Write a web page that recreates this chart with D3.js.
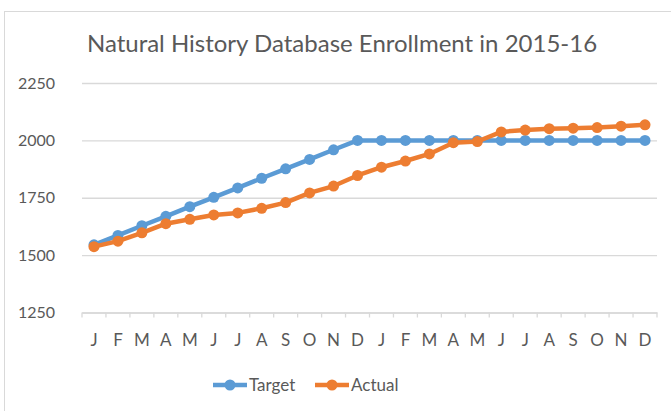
<!DOCTYPE html>
<html>
<head>
<meta charset="utf-8">
<script src="https://cdn.jsdelivr.net/npm/d3@7"></script>
<style>
  html, body { margin: 0; padding: 0; background: #fff; }
  svg { display: block; }
</style>
</head>
<body>
<div id="chart"></div>
<script>
// month labels, two years
const months = ['J', 'F', 'M', 'A', 'M', 'J', 'J', 'A', 'S', 'O', 'N', 'D',
  'J', 'F', 'M', 'A', 'M', 'J', 'J', 'A', 'S', 'O', 'N', 'D'];

const target = [1545, 1586, 1628, 1669, 1711, 1752, 1793, 1835, 1876, 1917, 1959, 2000,
  2000, 2000, 2000, 2000, 2000, 2000, 2000, 2000, 2000, 2000, 2000, 2000];

const actual = [1537, 1561, 1597, 1637, 1656, 1675, 1684, 1704, 1729, 1771, 1801, 1847,
  1883, 1910, 1941, 1990, 1995, 2037, 2045, 2051, 2053, 2056, 2062, 2068];

const yTicks = [1250, 1500, 1750, 2000, 2250];

const width = 671;
const height = 411;
const font = 'Lato, "Open Sans", sans-serif';
const textColor = '#595959';
const gridColor = '#d9d9d9';

const series = [
  { label: 'Target', color: '#5b9bd5', values: target },
  { label: 'Actual', color: '#ed7d31', values: actual },
];

const svg = d3.select('#chart').append('svg')
  .attr('width', width)
  .attr('height', height);

// chart area border (cut off at the right and bottom in the original)
svg.append('rect')
  .attr('x', 4.5)
  .attr('y', 11.5)
  .attr('width', 690)
  .attr('height', 420)
  .attr('fill', '#fff')
  .attr('stroke', gridColor)
  .attr('stroke-width', 1);

const margin = { top: 83, right: 14, bottom: 98.5, left: 82 };
const chartWidth = width - margin.left - margin.right;
const chartHeight = height - margin.top - margin.bottom;

const g = svg.append('g').attr('transform', `translate(${margin.left},${margin.top})`);

const xScale = d3.scaleBand().domain(d3.range(months.length)).range([0, chartWidth]);
const yScale = d3.scaleLinear().domain([1250, 2250]).range([chartHeight, 0]);

// title
svg.append('text')
  .attr('x', 342)
  .attr('y', 52)
  .attr('text-anchor', 'middle')
  .attr('font-family', font)
  .attr('font-size', '24px')
  .attr('fill', textColor)
  .text('Natural History Database Enrollment in 2015-16');

// gridlines + y labels
const yAxis = g.append('g')
  .attr('class', 'y-axis')
  .call(d3.axisLeft(yScale).tickValues(yTicks).tickSize(-chartWidth).tickPadding(27).tickFormat(d3.format('d')));
yAxis.select('.domain').remove();
yAxis.selectAll('.tick line').attr('stroke', gridColor).attr('stroke-width', 1.3);
yAxis.selectAll('.tick text')
  .attr('font-family', font)
  .attr('font-size', '16px')
  .attr('fill', textColor);

// x axis along bottom
const xAxis = g.append('g')
  .attr('class', 'x-axis')
  .attr('transform', `translate(0,${chartHeight})`)
  .call(d3.axisBottom(xScale).tickFormat(i => months[i]).tickSize(0).tickPadding(21));
xAxis.select('.domain').attr('stroke', gridColor).attr('stroke-width', 1.3);
xAxis.selectAll('.tick text')
  .attr('font-family', font)
  .attr('font-size', '17px')
  .attr('fill', textColor);

// little tick marks between categories
g.append('g')
  .selectAll('line')
  .data(d3.range(months.length + 1))
  .join('line')
  .attr('x1', i => i * xScale.step())
  .attr('x2', i => i * xScale.step())
  .attr('y1', chartHeight)
  .attr('y2', chartHeight + 5)
  .attr('stroke', gridColor)
  .attr('stroke-width', 1.3);

const drawLine = d3.line()
  .x((d, i) => xScale(i) + xScale.bandwidth() / 2)
  .y(d => yScale(d));

series.forEach(({ color, values }) => {
  g.append('path')
    .datum(values)
    .attr('fill', 'none')
    .attr('stroke', color)
    .attr('stroke-width', 4.5)
    .attr('stroke-linejoin', 'round')
    .attr('stroke-linecap', 'round')
    .attr('d', drawLine);

  g.append('g')
    .selectAll('circle')
    .data(values)
    .join('circle')
    .attr('cx', (d, i) => xScale(i) + xScale.bandwidth() / 2)
    .attr('cy', d => yScale(d))
    .attr('r', 5.5)
    .attr('fill', color);
});

// legend
const legendY = 385;
const legendX = [213, 315];
series.forEach(({ label, color }, i) => {
  const lg = svg.append('g').attr('transform', `translate(${legendX[i]},${legendY})`);
  lg.append('line')
    .attr('x1', 0).attr('x2', 34)
    .attr('y1', 0).attr('y2', 0)
    .attr('stroke', color)
    .attr('stroke-width', 4.5);
  lg.append('circle')
    .attr('cx', 17).attr('cy', 0).attr('r', 5.5)
    .attr('fill', color);
  lg.append('text')
    .attr('x', 36)
    .attr('y', 0)
    .attr('dy', '0.35em')
    .attr('font-family', font)
    .attr('font-size', '17px')
    .attr('fill', textColor)
    .text(label);
});
</script>
</body>
</html>
